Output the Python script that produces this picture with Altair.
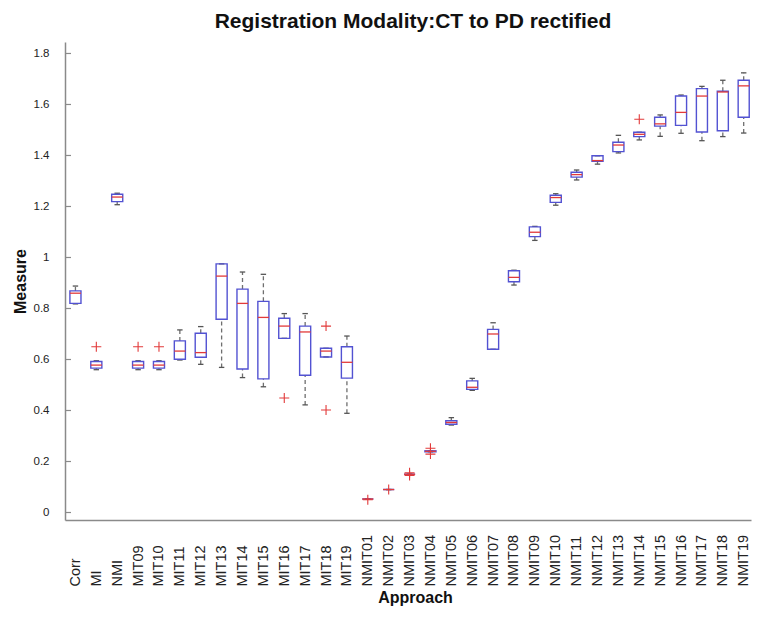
import altair as alt
import pandas as pd

categories = ["Corr", "MI", "NMI", "MIT09", "MIT10", "MIT11", "MIT12", "MIT13", "MIT14",
              "MIT15", "MIT16", "MIT17", "MIT18", "MIT19",
              "NMIT01", "NMIT02", "NMIT03", "NMIT04", "NMIT05", "NMIT06", "NMIT07", "NMIT08",
              "NMIT09", "NMIT10", "NMIT11", "NMIT12", "NMIT13", "NMIT14", "NMIT15", "NMIT16",
              "NMIT17", "NMIT18", "NMIT19"]

lower = [0.818, 0.560, 1.207, 0.560, 0.560, 0.598, 0.581, 0.569, 0.529, 0.493, 0.683, 0.422,
         0.610, 0.389, 0.053, 0.090, 0.150, 0.238, 0.343, 0.479, 0.640, 0.892, 1.067, 1.205,
         1.304, 1.366, 1.410, 1.461, 1.475, 1.487, 1.458, 1.474, 1.488]
q1 = [0.820, 0.566, 1.219, 0.566, 0.566, 0.601, 0.609, 0.758, 0.563, 0.524, 0.683, 0.538,
      0.610, 0.527, 0.053, 0.090, 0.150, 0.238, 0.346, 0.483, 0.640, 0.905, 1.082, 1.216,
      1.315, 1.377, 1.415, 1.474, 1.515, 1.518, 1.492, 1.497, 1.550]
median = [0.860, 0.578, 1.237, 0.578, 0.578, 0.633, 0.627, 0.927, 0.820, 0.765, 0.731, 0.708,
          0.633, 0.589, 0.053, 0.090, 0.150, 0.240, 0.353, 0.491, 0.700, 0.922, 1.099, 1.235,
          1.325, 1.380, 1.441, 1.483, 1.524, 1.569, 1.633, 1.649, 1.673]
q3 = [0.869, 0.592, 1.248, 0.592, 0.592, 0.673, 0.703, 0.975, 0.876, 0.828, 0.762, 0.731,
      0.644, 0.650, 0.053, 0.090, 0.150, 0.242, 0.360, 0.516, 0.718, 0.948, 1.120, 1.244,
      1.334, 1.399, 1.452, 1.491, 1.550, 1.633, 1.662, 1.652, 1.695]
upper = [0.888, 0.595, 1.252, 0.595, 0.595, 0.716, 0.729, 0.975, 0.943, 0.934, 0.780, 0.780,
         0.644, 0.692, 0.053, 0.090, 0.150, 0.242, 0.372, 0.526, 0.744, 0.950, 1.122, 1.250,
         1.343, 1.399, 1.479, 1.491, 1.559, 1.637, 1.671, 1.695, 1.724]

outlier_cat = ["MI", "MIT09", "MIT10", "MIT16", "MIT18", "MIT18", "NMIT01", "NMIT02",
               "NMIT03", "NMIT03", "NMIT04", "NMIT04", "NMIT14"]
outlier_val = [0.650, 0.650, 0.650, 0.449, 0.731, 0.402, 0.050, 0.090,
               0.156, 0.145, 0.252, 0.229, 1.542]

y_ticks = [0, 0.2, 0.4, 0.6, 0.8, 1.0, 1.2, 1.4, 1.6, 1.8]

FONT = "Liberation Sans, Arial, Helvetica"
BOX = "#5252d2"
MED = "#e23a3a"
WHISK = "#6f6f6f"
CAP = "#555555"
AXIS = "#8a8a8a"

df = pd.DataFrame({
    "cat": categories,
    "pos": list(range(1, len(categories) + 1)),
    "lower": lower, "q1": q1, "median": median, "q3": q3, "upper": upper,
})
pos_map = {c: i + 1 for i, c in enumerate(categories)}
df_out = pd.DataFrame({"cat": outlier_cat,
                       "pos": [pos_map[c] for c in outlier_cat],
                       "val": outlier_val})
df_ticks = pd.DataFrame({"v": y_ticks})

label_array = "[" + ",".join("'" + c + "'" for c in categories) + "]"

xscale = alt.Scale(domain=[0.5, 33.35], nice=False, zero=False)
yscale = alt.Scale(domain=[-0.0294, 1.845], nice=False, zero=False)

xaxis = alt.Axis(values=list(range(1, len(categories) + 1)),
                 labelExpr=label_array + "[datum.value-1]",
                 labelAngle=270, labelAlign="left", labelBaseline="middle",
                 ticks=False, labelPadding=66, labelOverlap=False, labelBound=False,
                 labelFlush=False, grid=False, title="Approach", titlePadding=3,
                 titleX=350)
yaxis = alt.Axis(values=y_ticks, format="~g", ticks=False, labelPadding=16,
                 grid=False, title="Measure", titlePadding=5)


def X(field):
    return alt.X(field, type="quantitative", scale=xscale, axis=xaxis, title="Approach")


def Y(field):
    return alt.Y(field, type="quantitative", scale=yscale, axis=yaxis, title="Measure")


base = alt.Chart(df).transform_calculate(
    bl="datum.pos - 0.265", br="datum.pos + 0.265",
    cl="datum.pos - 0.13", cr="datum.pos + 0.13")

wh_up = base.mark_rule(color=WHISK, strokeWidth=1.3, strokeDash=[4, 3], clip=True).encode(
    x=X("pos"), y=Y("q3"), y2="upper")
wh_lo = base.mark_rule(color=WHISK, strokeWidth=1.3, strokeDash=[4, 3], clip=True).encode(
    x=X("pos"), y=Y("lower"), y2="q1")
cap_up = base.mark_rule(color=CAP, strokeWidth=1.3, clip=True).encode(
    x=X("cl"), x2="cr", y=Y("upper"))
cap_lo = base.mark_rule(color=CAP, strokeWidth=1.3, clip=True).encode(
    x=X("cl"), x2="cr", y=Y("lower"))
box = base.mark_rect(fillOpacity=0, stroke=BOX, strokeWidth=1.4, clip=True).encode(
    x=X("bl"), x2="br", y=Y("q1"), y2="q3")
med = base.mark_rule(color=MED, strokeWidth=1.3, clip=True).encode(
    x=X("bl"), x2="br", y=Y("median"))
outl = alt.Chart(df_out).mark_point(
    shape="M-1,0L1,0M0,-1L0,1", filled=False, stroke=MED, strokeWidth=1.1,
    size=100, opacity=1, clip=True).encode(x=X("pos"), y=Y("val"))
ticks = alt.Chart(df_ticks).mark_rule(color=AXIS, strokeWidth=1.2).encode(
    x=alt.value(0), x2=alt.value(6), y=Y("v"))

chart = alt.layer(ticks, wh_up, wh_lo, cap_up, cap_lo, box, med, outl).properties(
    width=686, height=478,
    autosize=alt.AutoSizeParams(type="none"),
    padding={"left": 57, "top": 34, "right": 3, "bottom": 90},
    title=alt.TitleParams("Registration Modality:CT to PD rectified", font=FONT,
                          fontSize=21, fontWeight="bold", anchor="middle",
                          offset=10, dx=5, color="#111111"),
).configure_view(stroke=None).configure_axis(
    domainColor=AXIS, domainWidth=1.5,
    labelFont=FONT, labelFontSize=11.5, labelColor="#222222",
    titleFont=FONT, titleFontSize=16, titleFontWeight="bold", titleColor="#111111",
).configure_axisX(labelFontSize=14.5)

chart.save("out.html", embed_options={"renderer": "svg", "actions": False})
